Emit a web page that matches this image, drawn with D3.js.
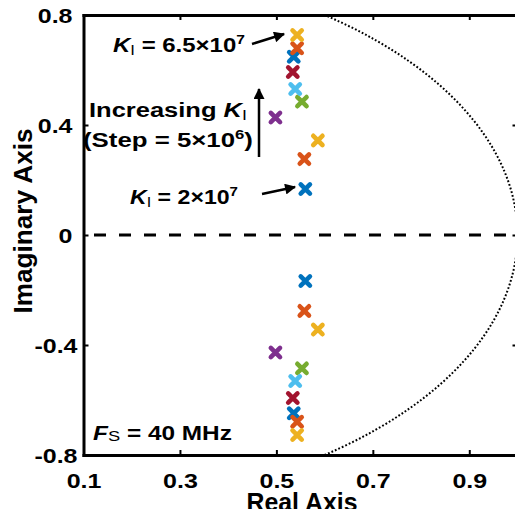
<!DOCTYPE html>
<html>
<head>
<meta charset="utf-8">
<script src="https://cdn.jsdelivr.net/npm/d3@7"></script>
<style>
    body { margin: 0; background: #fff; }
    svg { display: block; font-family: 'Liberation Sans', Arial, sans-serif; font-weight: bold; }
</style>
</head>
<body>
<svg id="rlocus" width="515" height="509"></svg>
<script>
'use strict';

// integral gain sweep, 2e7 .. 6.5e7 (step 5e6), one closed-loop pole pair per gain
var gainValues = [2e7, 2.5e7, 3e7, 3.5e7, 4e7, 4.5e7, 5e7, 5.5e7, 6e7, 6.5e7];
var poleReal = [0.560, 0.558, 0.586, 0.498, 0.553, 0.539, 0.534, 0.536, 0.543, 0.543];
var poleImag = [0.167, 0.276, 0.344, 0.427, 0.485, 0.531, 0.593, 0.648, 0.679, 0.727];

var xTicks = [0.1, 0.3, 0.5, 0.7, 0.9];
var yTicks = [-0.8, -0.4, 0, 0.4, 0.8];
var colorOrder = ['#0072BD', '#D95319', '#EDB120', '#7E2F8E', '#77AC30', '#4DBEEE', '#A2142F'];

var svg = d3.select('#rlocus');

var x = d3.scaleLinear().domain([0.1, 1]).range([83.5, 517.5]);
var y = d3.scaleLinear().domain([-0.8, 0.8]).range([455, 15]);

function fitText (text, tx, ty, width, rotate) {
    var box = text.node().getBBox();
    var k = width / box.width;
    text.attr('transform', 'translate(' + tx + ',' + ty + ')' +
        (rotate ? ' rotate(-90)' : '') + ' scale(' + k + ',1)');
}

function addLabel (parts) {
    var text = svg.append('text')
        .attr('font-size', 20)
        .attr('fill', '#000');

    parts.forEach(function (p) {
        text.append('tspan')
            .attr('font-style', p.italic ? 'italic' : null)
            .attr('font-weight', p.light ? 'normal' : null)
            .attr('font-size', p.size || null)
            .attr('dy', p.dy || 0)
            .text(p.text);
    });
    return text;
}

var defs = svg.append('defs');

defs.append('clipPath')
    .attr('id', 'plot-area')
  .append('rect')
    .attr('x', x(0.1))
    .attr('y', y(0.8))
    .attr('width', x(1) - x(0.1))
    .attr('height', y(-0.8) - y(0.8));

defs.append('marker')
    .attr('id', 'head')
    .attr('viewBox', '0 0 10 10')
    .attr('refX', 9)
    .attr('refY', 5)
    .attr('markerWidth', 12)
    .attr('markerHeight', 11)
    .attr('markerUnits', 'userSpaceOnUse')
    .attr('orient', 'auto')
  .append('path')
    .attr('d', 'M0,0L10,5L0,10z')
    .attr('fill', '#000');

// unit circle (stability boundary)
svg.append('ellipse')
    .attr('clip-path', 'url(#plot-area)')
    .attr('cx', x(0))
    .attr('cy', y(0))
    .attr('rx', x(1) - x(0))
    .attr('ry', y(0) - y(1))
    .attr('fill', 'none')
    .attr('stroke', '#000')
    .attr('stroke-width', 2)
    .attr('stroke-dasharray', '1.8,2');

// real axis
svg.append('line')
    .attr('x1', x(0.1))
    .attr('x2', x(1))
    .attr('y1', y(0))
    .attr('y2', y(0))
    .attr('stroke', '#000')
    .attr('stroke-width', 3)
    .attr('stroke-dasharray', '12,13')
    .attr('stroke-dashoffset', -10.5);

// axes box
function styleAxis (g) {
    g.attr('font-size', null).attr('font-family', null);
    g.select('.domain')
        .attr('stroke-width', 3)
        .attr('stroke-linecap', 'square');
    g.selectAll('.tick line').attr('stroke-width', 2);
}

var xAxis = svg.append('g')
    .attr('transform', 'translate(0,' + y(-0.8) + ')')
    .call(d3.axisBottom(x).tickValues(xTicks).tickSizeInner(-5).tickSizeOuter(0)
        .tickFormat(function (d) { return String(d); }))
    .call(styleAxis);

xAxis.selectAll('.tick text')
    .attr('font-size', 20)
    .attr('fill', '#000')
    .attr('y', 0)
    .attr('dy', 0)
    .attr('transform', 'translate(0,33) scale(1.25,1)');

var yAxis = svg.append('g')
    .attr('transform', 'translate(' + x(0.1) + ',0)')
    .call(d3.axisLeft(y).tickValues(yTicks).tickSizeInner(-5).tickSizeOuter(0)
        .tickFormat(function (d) { return String(d); }))
    .call(styleAxis);

yAxis.selectAll('.tick text')
    .attr('font-size', 20)
    .attr('fill', '#000')
    .attr('x', 0)
    .attr('dy', '0.35em')
    .attr('transform', function (d) {
        return 'translate(' + (d < 0 ? -6 : -11) + ',0) scale(1.25,1)';
    });

svg.append('g')
    .attr('transform', 'translate(0,' + y(0.8) + ')')
    .call(d3.axisTop(x).tickValues(xTicks).tickSizeInner(-5).tickSizeOuter(0).tickFormat(''))
    .call(styleAxis);

svg.append('g')
    .attr('transform', 'translate(' + x(1) + ',0)')
    .call(d3.axisRight(y).tickValues(yTicks).tickSizeInner(-5).tickSizeOuter(0).tickFormat(''))
    .call(styleAxis);

// closed-loop poles with their conjugates
var poles = [];
gainValues.forEach(function (k, i) {
    poles.push({ k: k, re: poleReal[i], im: poleImag[i], color: colorOrder[i % colorOrder.length] });
});
gainValues.forEach(function (k, i) {
    poles.push({ k: k, re: poleReal[i], im: -poleImag[i], color: colorOrder[i % colorOrder.length] });
});

svg.append('g')
    .selectAll('path')
    .data(poles)
    .enter().append('path')
        .attr('d', 'M-4.6,-4.6L4.6,4.6M-4.6,4.6L4.6,-4.6')
        .attr('transform', function (d) {
            return 'translate(' + x(d.re) + ',' + y(d.im) + ')';
        })
        .attr('fill', 'none')
        .attr('stroke', function (d) { return d.color; })
        .attr('stroke-width', 4.6)
        .attr('stroke-linecap', 'round');

// annotations
var kHigh = addLabel([
    { text: 'K', italic: true },
    { text: 'I', size: 14, light: true, dy: 3 },
    { text: ' = 6.5\u00d710', dy: -3 },
    { text: '7', size: 13, dy: -8 }
]);
fitText(kHigh, 113, 51.5, 132);

var increasing = addLabel([
    { text: 'Increasing ' },
    { text: 'K', italic: true },
    { text: 'I', size: 14, light: true, dy: 3 }
]);
fitText(increasing, 89, 117, 158);

var step = addLabel([
    { text: '(Step = 5\u00d710' },
    { text: '6', size: 13, dy: -8 },
    { text: ')', dy: 8 }
]);
fitText(step, 83, 147, 170);

var kLow = addLabel([
    { text: 'K', italic: true },
    { text: 'I', size: 14, light: true, dy: 3 },
    { text: ' = 2\u00d710', dy: -3 },
    { text: '7', size: 13, dy: -8 }
]);
fitText(kLow, 130, 204, 108);

var fs = addLabel([
    { text: 'F', italic: true },
    { text: 'S', size: 15, light: true, dy: 1 },
    { text: ' = 40 MHz', dy: -1 }
]);
fitText(fs, 93, 440, 139);

var arrows = [
    [[252, 44], [284, 34]],
    [[259, 157], [259, 89]],
    [[262, 194], [295, 187]]
];

svg.append('g')
    .selectAll('line')
    .data(arrows)
    .enter().append('line')
        .attr('x1', function (d) { return d[0][0]; })
        .attr('y1', function (d) { return d[0][1]; })
        .attr('x2', function (d) { return d[1][0]; })
        .attr('y2', function (d) { return d[1][1]; })
        .attr('stroke', '#000')
        .attr('stroke-width', 2.5)
        .attr('marker-end', 'url(#head)');

// axis titles
var xTitle = svg.append('text')
    .attr('font-size', 25)
    .attr('text-anchor', 'middle')
    .text('Real Axis');
fitText(xTitle, 302, 511, 111);

var yTitle = svg.append('text')
    .attr('font-size', 25)
    .attr('text-anchor', 'middle')
    .text('Imaginary Axis');
fitText(yTitle, 32, 221, 185, true);
</script>
</body>
</html>
